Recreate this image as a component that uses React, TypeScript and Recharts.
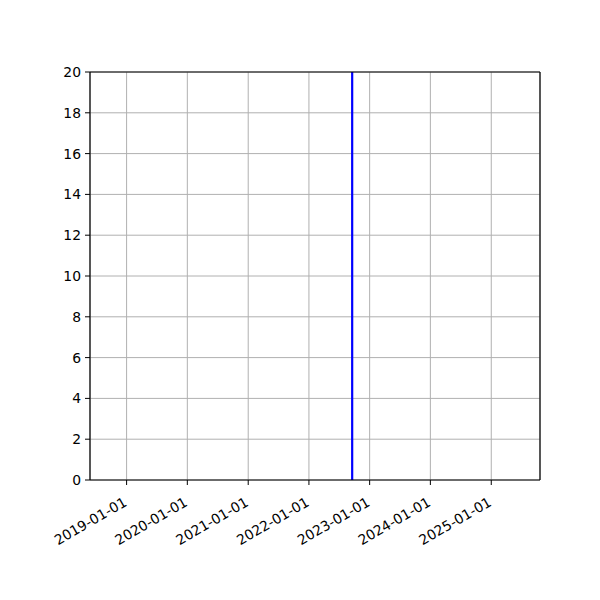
import React from 'react';
import { LineChart, Line, XAxis, YAxis, CartesianGrid } from 'recharts';

const xDomain = [Date.UTC(2018, 4, 26), Date.UTC(2025, 9, 21)];
const xTicks = [2019, 2020, 2021, 2022, 2023, 2024, 2025].map((y) => Date.UTC(y, 0, 1));
const yTicks = [0, 2, 4, 6, 8, 10, 12, 14, 16, 18, 20];
const eventDates = [Date.UTC(2022, 8, 18), Date.UTC(2022, 8, 18)];
const eventValues = [0, 20];

const data = eventDates.map((t, i) => ({ t, v: eventValues[i] }));

const fmtDate = (t: number) => new Date(t).toISOString().slice(0, 10);

const DateTick = (props: any) => {
  const { x, y, payload } = props;
  const ax = x - 4;
  const ay = y + 9;
  return (
    <text
      x={ax}
      y={ay}
      textAnchor="end"
      dominantBaseline="hanging"
      fontSize={13.9}
      fill="#000"
      fontFamily="DejaVu Sans"
      transform={`rotate(-30, ${ax}, ${ay})`}
    >
      {fmtDate(payload.value)}
    </text>
  );
};

export default function App() {
  return (
    <div style={{ margin: -8, width: 600, height: 600, background: '#fff', fontFamily: 'DejaVu Sans' }}>
      <LineChart width={600} height={600} data={data} margin={{ top: 71, right: 0, bottom: 40, left: 30 }}>
        <CartesianGrid xAxisId="main" yAxisId="main" stroke="#b0b0b0" strokeWidth={1} />
        <XAxis
          xAxisId="main"
          dataKey="t"
          type="number"
          scale="time"
          domain={xDomain}
          ticks={xTicks}
          allowDataOverflow
          height={80}
          axisLine={{ stroke: '#000', strokeWidth: 1.2 }}
          tickLine={{ stroke: '#000' }}
          tickSize={5}
          tick={<DateTick />}
          interval={0}
        />
        <XAxis
          xAxisId="top"
          orientation="top"
          dataKey="t"
          type="number"
          domain={xDomain}
          allowDataOverflow
          height={1}
          tick={false}
          tickLine={false}
          axisLine={{ stroke: '#000', strokeWidth: 1.2 }}
        />
        <YAxis
          yAxisId="main"
          domain={[0, 20]}
          ticks={yTicks}
          interval={0}
          width={60}
          axisLine={{ stroke: '#000', strokeWidth: 1.2 }}
          tickLine={{ stroke: '#000' }}
          tickSize={5}
          tickMargin={4}
          tick={{ fill: '#000', fontSize: 13.9, fontFamily: 'DejaVu Sans' }}
        />
        <YAxis
          yAxisId="right"
          orientation="right"
          domain={[0, 20]}
          width={60}
          tick={false}
          tickLine={false}
          axisLine={{ stroke: '#000', strokeWidth: 1.2 }}
        />
        <Line
          xAxisId="main"
          yAxisId="main"
          dataKey="v"
          stroke="#0000ff"
          strokeWidth={2.2}
          dot={false}
          isAnimationActive={false}
        />
      </LineChart>
    </div>
  );
}
